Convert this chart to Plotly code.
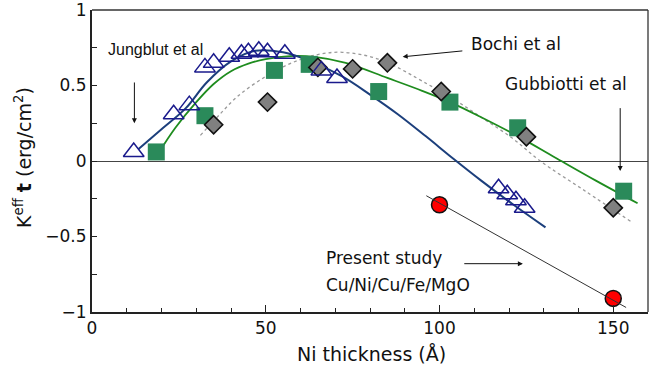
import plotly.graph_objects as go

# ---- data ----
jung_x = [12, 23.5, 28, 32.5, 35, 39.5, 43, 45, 48, 50.5, 55.5, 66, 70.5, 117, 119.5, 122, 124.5]
jung_y = [0.06, 0.31, 0.37, 0.62, 0.65, 0.69, 0.71, 0.72, 0.73, 0.72, 0.71, 0.60, 0.55, -0.18, -0.22, -0.26, -0.31]

gub_x = [18.5, 32.5, 52.5, 62.5, 82.5, 103, 122.5, 153]
gub_y = [0.06, 0.30, 0.60, 0.64, 0.46, 0.39, 0.22, -0.20]

bochi_x = [35, 50.5, 65, 75, 85, 100.5, 125, 150]
bochi_y = [0.24, 0.39, 0.62, 0.61, 0.65, 0.46, 0.16, -0.31]

present_x = [100, 150]
present_y = [-0.29, -0.91]

# fitted curves
jfit_x = [13.4, 20, 27, 33, 40, 47, 55, 63, 72, 80, 88, 96, 104, 112, 121, 130.5]
jfit_y = [0.08, 0.21, 0.35, 0.52, 0.66, 0.73, 0.72, 0.66, 0.56, 0.44, 0.31, 0.165, 0.015, -0.13, -0.285, -0.44]

gfit_x = [19.2, 24, 30, 35, 40, 45, 50, 57, 64, 73, 85, 95, 103, 112, 122.5, 133.5, 145, 157]
gfit_y = [0.055, 0.22, 0.39, 0.51, 0.595, 0.645, 0.675, 0.695, 0.69, 0.65, 0.55, 0.465, 0.39, 0.29, 0.165, 0.02, -0.13, -0.28]

bfit_x = [31.2, 36, 42, 50, 57, 64, 72, 83, 96.5, 104, 112, 121, 129, 142, 155]
bfit_y = [0.17, 0.29, 0.43, 0.56, 0.645, 0.70, 0.72, 0.67, 0.51, 0.41, 0.29, 0.15, 0.0, -0.20, -0.40]

pfit_x = [96.2, 153.7]
pfit_y = [-0.23, -0.97]

x_ticks = [0, 50, 100, 150]
y_ticks = [-1, -0.5, 0, 0.5, 1]
y_tick_text = ["\u22121", "\u22120.5", "0", "0.5", "1"]

WIDE = "DejaVu Sans, Verdana, sans-serif"
PLAIN = "Liberation Sans, Arial, sans-serif"

fig = go.Figure()

# fit lines
fig.add_trace(go.Scatter(x=bfit_x, y=bfit_y, mode="lines", line=dict(color="#9a9a9a", width=1.3, dash="dot", shape="spline"), hoverinfo="skip"))
fig.add_trace(go.Scatter(x=gfit_x, y=gfit_y, mode="lines", line=dict(color="#1e8c1e", width=1.8, shape="spline"), hoverinfo="skip"))
fig.add_trace(go.Scatter(x=jfit_x, y=jfit_y, mode="lines", line=dict(color="#1c3f7c", width=2, shape="spline"), hoverinfo="skip"))

# markers
fig.add_trace(go.Scatter(x=gub_x, y=gub_y, mode="markers",
                         marker=dict(symbol="square", size=17, color="#2a8a5a", line=dict(width=0))))
fig.add_trace(go.Scatter(x=bochi_x, y=bochi_y, mode="markers",
                         marker=dict(symbol="diamond", size=14, color="#808080", line=dict(color="#111111", width=1.6))))
fig.add_trace(go.Scatter(x=jung_x, y=jung_y, mode="markers",
                         marker=dict(symbol="triangle-up-open", size=18, color="#1a1a8c", line=dict(color="#1a1a8c", width=1.5))))
fig.add_trace(go.Scatter(x=present_x, y=present_y, mode="markers",
                         marker=dict(symbol="circle", size=16, color="#ff0000", line=dict(color="#111111", width=1.5))))

# present-study fit line drawn over the circles
fig.add_trace(go.Scatter(x=pfit_x, y=pfit_y, mode="lines", line=dict(color="#333333", width=1), hoverinfo="skip"))

wfont = dict(family=WIDE, size=17, color="#111111")
nfont = dict(family=PLAIN, size=16, color="#111111")
annotations = [
    dict(x=18.3, y=0.74, text="Jungblut et al", showarrow=False, font=nfont, xanchor="center", yanchor="middle"),
    dict(x=122, y=0.775, text="Bochi et al", showarrow=False, font=wfont, xanchor="center", yanchor="middle"),
    dict(x=136.4, y=0.51, text="Gubbiotti et al", showarrow=False, font=wfont, xanchor="center", yanchor="middle"),
    dict(x=66.9, y=-0.645, text="Present study", showarrow=False, font=wfont, xanchor="left", yanchor="middle"),
    dict(x=66.9, y=-0.82, text="Cu/Ni/Cu/Fe/MgO", showarrow=False, font=wfont, xanchor="left", yanchor="middle"),
    # arrows
    dict(x=12.2, y=0.25, ax=12.2, ay=0.53, axref="x", ayref="y", text="", showarrow=True,
         arrowhead=2, arrowsize=1, arrowwidth=1, arrowcolor="#111111"),
    dict(x=89.4, y=0.69, ax=107, ay=0.73, axref="x", ayref="y", text="", showarrow=True,
         arrowhead=2, arrowsize=1, arrowwidth=1, arrowcolor="#111111"),
    dict(x=152, y=-0.066, ax=152, ay=0.36, axref="x", ayref="y", text="", showarrow=True,
         arrowhead=2, arrowsize=1, arrowwidth=1, arrowcolor="#111111"),
    dict(x=124, y=-0.68, ax=106.7, ay=-0.68, axref="x", ayref="y", text="", showarrow=True,
         arrowhead=2, arrowsize=1, arrowwidth=1, arrowcolor="#111111"),
    # axis titles
    dict(xref="paper", yref="paper", x=(371 - 92) / 556, y=-(354 - 312) / 302,
         text="Ni thickness (\u00c5)", showarrow=False, font=dict(family=WIDE, size=19, color="#111111"),
         xanchor="center", yanchor="middle"),
    dict(xref="paper", yref="paper", x=-(92 - 23) / 556, y=(312 - 158) / 302,
         text="K<sup>eff</sup> <b>t</b> (erg/cm<sup>2</sup>)", showarrow=False, textangle=-90,
         font=dict(family=WIDE, size=19, color="#111111"), xanchor="center", yanchor="middle"),
]

fig.update_layout(
    width=653, height=372,
    margin=dict(l=92, r=5, t=10, b=60),
    plot_bgcolor="white", paper_bgcolor="white",
    showlegend=False,
    annotations=annotations,
    shapes=[
        dict(type="line", xref="paper", yref="paper", x0=0, x1=1, y0=1, y1=1, line=dict(color="#333333", width=1.3)),
        dict(type="line", xref="paper", yref="paper", x0=1, x1=1, y0=0, y1=1, line=dict(color="#333333", width=1.3)),
    ],
)
fig.update_xaxes(range=[0, 160], automargin=False, showgrid=False, zeroline=False, showline=True, linecolor="#222222", linewidth=2,
                 tickmode="array", tickvals=x_ticks, ticks="inside", ticklen=7, tickcolor="#222222",
                 ticklabeloverflow="allow",
                 minor=dict(dtick=10, ticks="inside", ticklen=4, tickcolor="#222222", showgrid=False),
                 tickfont=dict(family=WIDE, size=17, color="#111111"))
fig.update_yaxes(range=[-1, 1], automargin=False, showgrid=False, zeroline=True, zerolinecolor="#444444", zerolinewidth=1,
                 showline=True, linecolor="#222222", linewidth=2,
                 tickmode="array", tickvals=y_ticks, ticktext=y_tick_text, ticks="inside", ticklen=5, tickcolor="#222222",
                 ticklabeloverflow="allow",
                 minor=dict(dtick=0.25, ticks="inside", ticklen=5, tickcolor="#222222", showgrid=False),
                 tickfont=dict(family=WIDE, size=17, color="#111111"))

fig.write_html("out.html", config={"displayModeBar": False},
               post_script="document.body.style.margin='0px';")
